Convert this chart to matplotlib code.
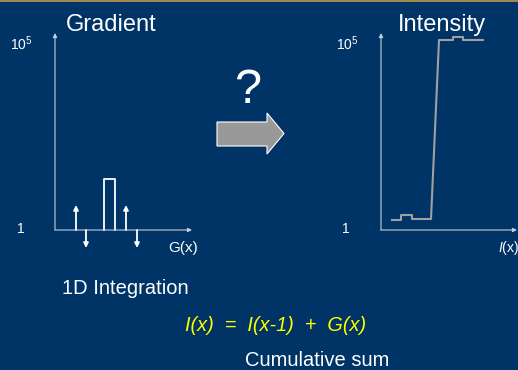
import matplotlib
matplotlib.use("Agg")
import matplotlib.pyplot as plt
from matplotlib.patches import Rectangle, Polygon

plt.rcParams["font.family"] = ["Liberation Sans", "DejaVu Sans"]
plt.rcParams["mathtext.fontset"] = "custom"
plt.rcParams["mathtext.rm"] = "Liberation Sans"
plt.rcParams["mathtext.it"] = "Liberation Sans:italic"

# gradient: impulses (x, value) and one pulse
grad_x = [2.1, 3.1, 7.1, 8.2]
grad_v = [2.5, -1.8, 2.5, -1.8]
pulse_x = [4.9, 6.0]
pulse_h = 5.1

# intensity: cumulative result, as step vertices
int_x = [1.1, 2.0, 2.0, 3.1, 3.1, 5.0, 5.8, 7.2, 7.2, 8.2, 8.2, 10.2]
int_y = [1.0, 1.0, 1.5, 1.5, 1.1, 1.1, 19.0, 19.0, 19.3, 19.3, 19.0, 19.0]

y_labels = ["1", "$10^5$"]

BG = "#003366"
AXC = "#c4ccd8"
W, H = 518, 370

fig = plt.figure(figsize=(W / 100, H / 100), dpi=100, facecolor=BG)

# full-figure layer in pixel units for slide decorations
bg = fig.add_axes([0, 0, 1, 1])
bg.set_xlim(0, W)
bg.set_ylim(H, 0)
bg.axis("off")
bg.add_patch(Rectangle((0, 0), W, 2, color="#a08850", lw=0))


def make_panel(left_px, width_px):
    ax = fig.add_axes([left_px / W, 1 - 230 / H, width_px / W, 197 / H])
    ax.set_xlim(0, width_px / 10)
    ax.set_ylim(0, 19.7)
    ax.axis("off")
    arrow = dict(arrowstyle="-|>", color=AXC, lw=0.8, mutation_scale=6,
                 shrinkA=0, shrinkB=0)
    ax.annotate("", xy=(width_px / 10, 0), xytext=(0, 0), arrowprops=arrow,
                annotation_clip=False)
    ax.annotate("", xy=(0, 19.7), xytext=(0, 0), arrowprops=arrow,
                annotation_clip=False)
    return ax


# gradient panel
ax1 = make_panel(55, 137)
for x, v in zip(grad_x, grad_v):
    ax1.annotate("", xy=(x, v), xytext=(x, 0),
                 arrowprops=dict(arrowstyle="-|>", color="white", lw=1.3,
                                 mutation_scale=7, shrinkA=0, shrinkB=0),
                 annotation_clip=False)
ax1.plot([pulse_x[0], pulse_x[0], pulse_x[1], pulse_x[1]],
         [0, pulse_h, pulse_h, 0], color="white", lw=1.3, clip_on=False)

# intensity panel
ax2 = make_panel(381, 136)
ax2.plot(int_x, int_y, color="#a0a0a0", lw=1.5, clip_on=False)

# middle block arrow
bg.add_patch(Polygon([(217, 122), (267, 122), (267, 113), (284, 133.5),
                      (267, 154), (267, 146), (217, 146)],
                     closed=True, facecolor="#999999", edgecolor="white", lw=0.8))

txt = dict(color="white", va="baseline", ha="left")
bg.text(66, 31, "Gradient", fontsize=17, **txt)
bg.text(398, 31, "Intensity", fontsize=17, **txt)
bg.text(248, 103, "?", fontsize=35, color="white", va="baseline", ha="center")

bg.text(10, 50, y_labels[1], fontsize=10, **txt)
bg.text(17, 233, y_labels[0], fontsize=10, **txt)
bg.text(336, 50, y_labels[1], fontsize=10, **txt)
bg.text(342, 233, y_labels[0], fontsize=10, **txt)

bg.text(168, 252, "G(x)", fontsize=11, **txt)
bg.text(498, 252, "$\\it{I}$(x)", fontsize=10, **txt)

bg.text(62, 294, "1D Integration", fontsize=14.5, **txt)
bg.text(185, 331, "I(x)  =  I(x-1)  +  G(x)", fontsize=14.3, style="italic",
        color="#ffff00", va="baseline", ha="left")
bg.text(245, 366, "Cumulative sum", fontsize=14.5, **txt)

fig.savefig("out.png", dpi=100, facecolor=BG)
